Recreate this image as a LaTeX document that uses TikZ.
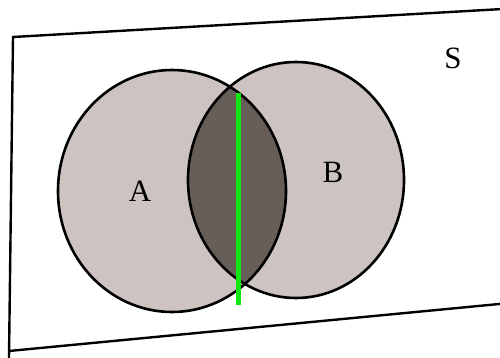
\documentclass[tikz,border=0pt]{standalone}
\usepackage{tikz}
\usepackage{fontspec}
\setmainfont{Liberation Serif}

\definecolor{setfill}{RGB}{205,196,194}
\definecolor{lensfill}{RGB}{104,94,88}
\definecolor{cutgreen}{RGB}{20,230,20}

\tikzset{
  setlabel/.style={font=\fontsize{31}{33}\selectfont, inner sep=0pt},
  setrim/.style={draw=black, line width=2.6pt}
}

\begin{document}
\begin{tikzpicture}[x=1pt, y=-1pt]
  \useasboundingbox[fill=white] (0,0) rectangle (500,358);
  % draw the sample space frame
  \draw[line width=2.4pt] (520,8) -- (13,37) -- (9,358);
  \draw[line width=2.4pt] (9,351) -- (520,302);
  % fill both sets
  \fill[setfill] (172,191) ellipse [x radius=114, y radius=121];
  \fill[setfill] (296,180) ellipse [x radius=108, y radius=118];
  % shade the intersection
  \begin{scope}
    \clip (172,191) ellipse [x radius=114, y radius=121];
    \fill[lensfill] (296,180) ellipse [x radius=108, y radius=118];
  \end{scope}
  % draw the rims
  \draw[setrim] (172,191) ellipse [x radius=114, y radius=121];
  \draw[setrim] (296,180) ellipse [x radius=108, y radius=118];
  % labels
  \node[setlabel] (labA) at (140,191) {A};
  \node[setlabel] (labB) at (333,172) {B};
  \node[setlabel] (labS) at (453,58) {S};
  % green cut through the intersection
  \coordinate (cuttop) at (238,93);
  \coordinate (cutbot) at (238,305);
  \draw[cutgreen, line width=5pt] (cuttop) -- (cutbot);
\end{tikzpicture}
\end{document}
